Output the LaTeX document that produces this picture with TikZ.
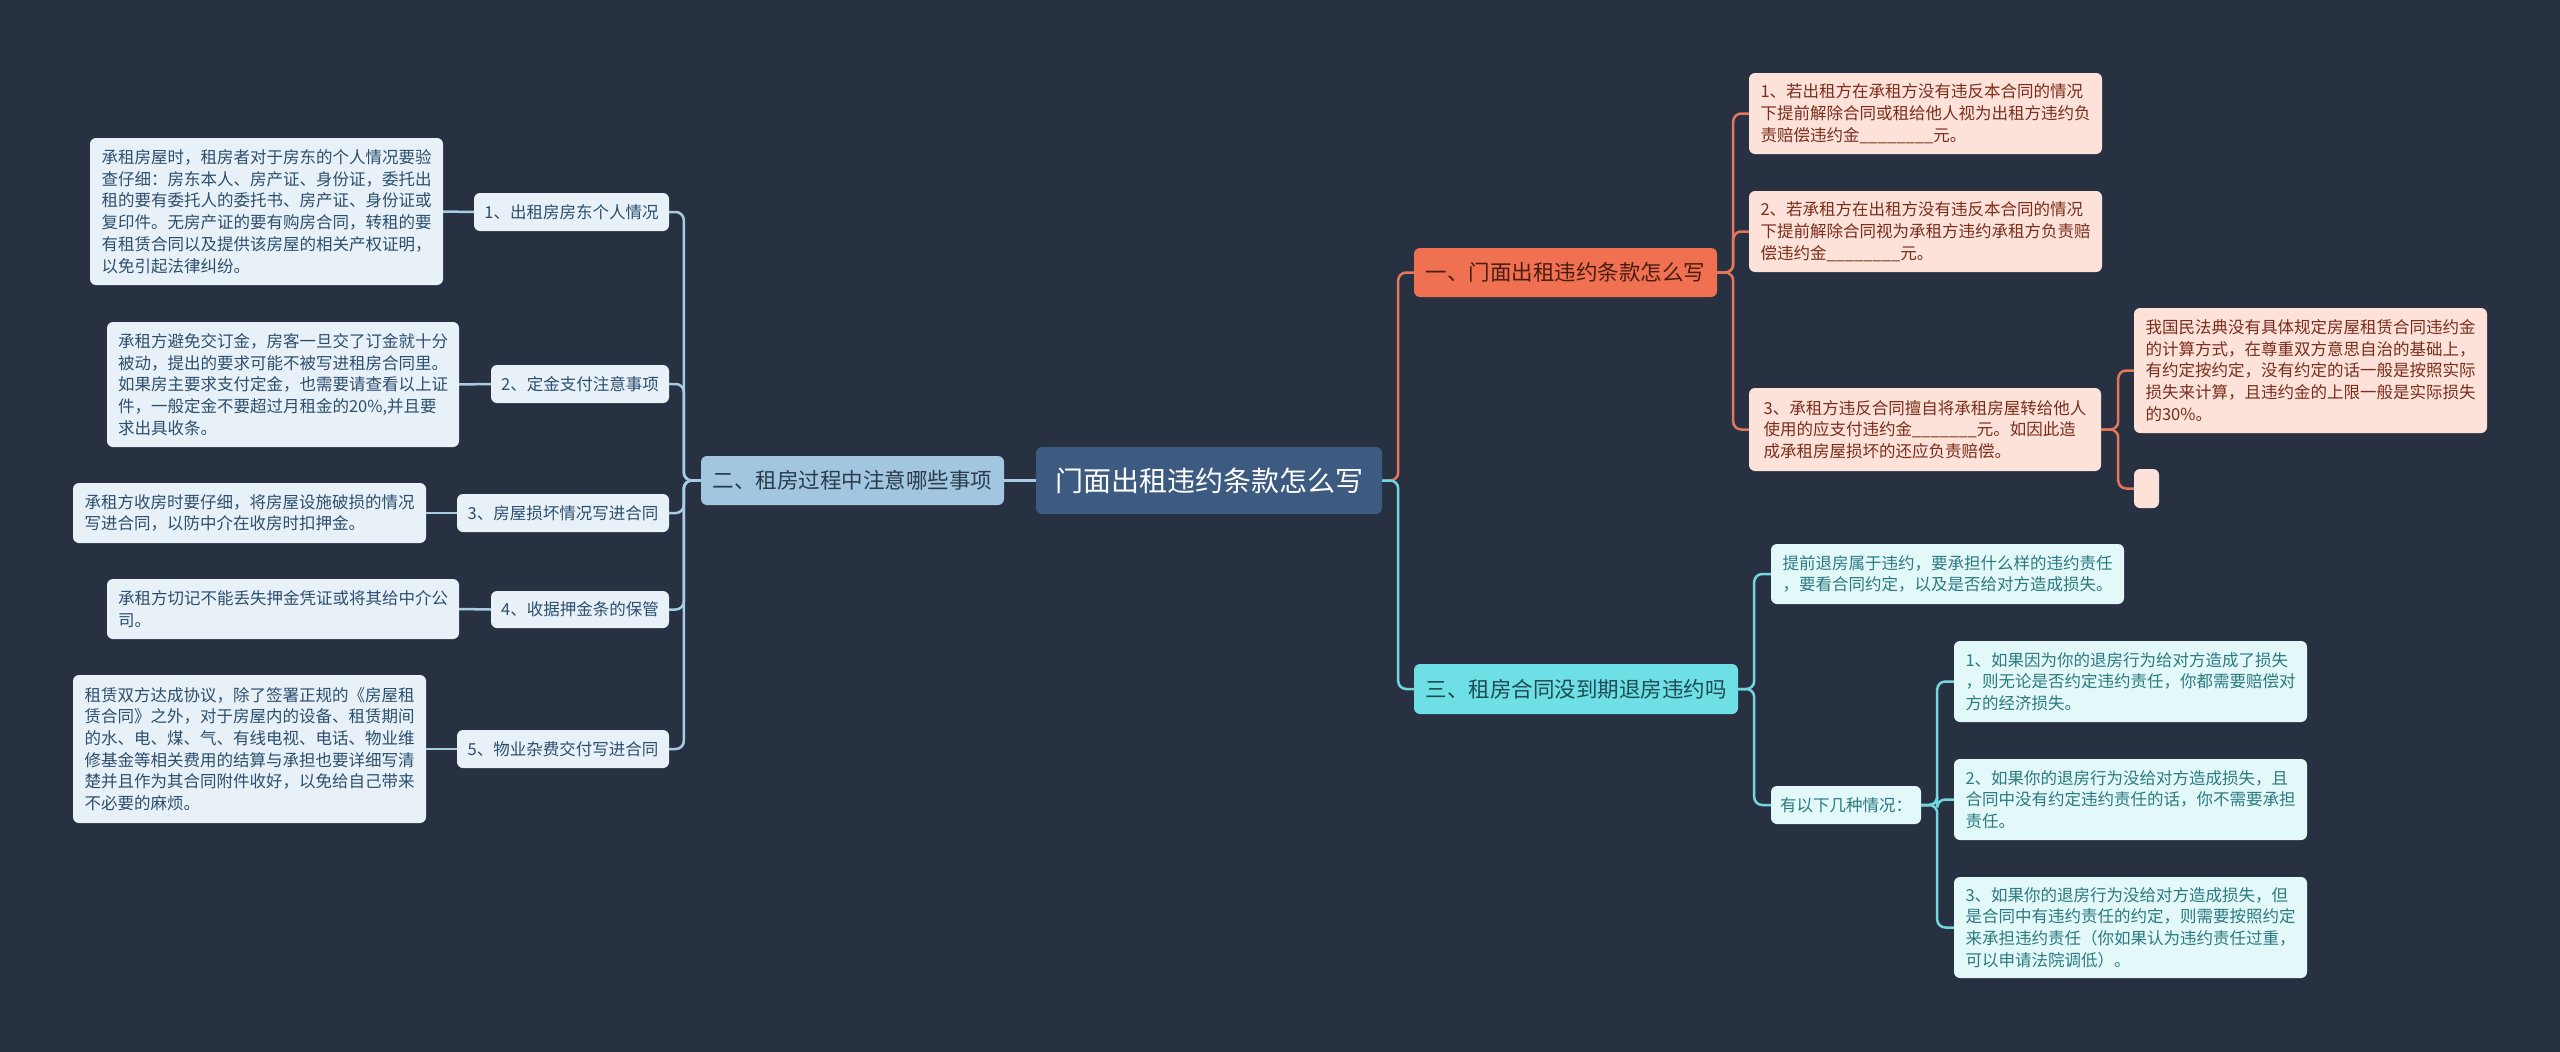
\documentclass[tikz,border=0pt]{standalone}
\usepackage{fontspec}
\setmainfont{Noto Sans CJK SC}
\definecolor{bg}{HTML}{283142}
\definecolor{cfill}{HTML}{3D5B80}
\definecolor{lmfill}{HTML}{A2C6DF}
\definecolor{lmtext}{HTML}{2A3B4E}
\definecolor{lfill}{HTML}{E8F1F8}
\definecolor{ltext}{HTML}{2C4F6E}
\definecolor{lline}{HTML}{A8CCE4}
\definecolor{r1fill}{HTML}{F07052}
\definecolor{r1text}{HTML}{4A1C10}
\definecolor{rdfill}{HTML}{FDE2DA}
\definecolor{rdtext}{HTML}{7B2D1B}
\definecolor{rline}{HTML}{E4775A}
\definecolor{r3fill}{HTML}{6DDFE5}
\definecolor{r3text}{HTML}{1F4B55}
\definecolor{rsfill}{HTML}{E3F8F9}
\definecolor{rstext}{HTML}{2B7A80}
\definecolor{cline}{HTML}{74D6DE}
\tikzset{
  box/.style={rectangle, rounded corners=6pt, inner xsep=9pt, inner ysep=6pt, align=left},
  small/.style={font=\fontsize{16.5}{21.7}\selectfont},
  big/.style={font=\fontsize{21.5}{26}\selectfont},
  ctr/.style={box, fill=cfill, text=white, font=\fontsize{28}{34}\selectfont},
  lmain/.style={box, big, fill=lmfill, text=lmtext},
  lbox/.style={box, small, fill=lfill, text=ltext},
  rmain/.style={box, big, fill=r1fill, text=r1text},
  rbox/.style={box, small, fill=rdfill, text=rdtext},
  cmain/.style={box, big, fill=r3fill, text=r3text},
  cbox/.style={box, small, fill=rsfill, text=rstext},
  conn/.style={line width=2.5pt, rounded corners=8pt},
  lc/.style={conn, draw=lline},
  rc/.style={conn, draw=rline},
  cc/.style={conn, draw=cline},
}
\begin{document}
\begin{tikzpicture}[x=1pt,y=-1pt]
\fill[bg] (0,0) rectangle (2560,1052);
\useasboundingbox (0,0) rectangle (2560,1052);

% center
\node[ctr, minimum width=346pt, minimum height=67pt] (C) at (1209,480.5) {门面出租违约条款怎么写};

% left branch
\node[lmain, minimum width=303pt, minimum height=49pt] (L) at (852.5,480.5) {二、租房过程中注意哪些事项};
\node[lbox, minimum width=195pt, minimum height=38pt] (s1) at (571.5,212) {1、出租房房东个人情况};
\node[lbox, minimum width=178pt, minimum height=38pt] (s2) at (580,384) {2、定金支付注意事项};
\node[lbox, minimum width=212pt, minimum height=38pt] (s3) at (563,513) {3、房屋损坏情况写进合同};
\node[lbox, minimum width=178pt, minimum height=37pt] (s4) at (580,609.5) {4、收据押金条的保管};
\node[lbox, minimum width=212pt, minimum height=38pt] (s5) at (563,749) {5、物业杂费交付写进合同};

\node[lbox, minimum width=353pt, minimum height=147pt] (d1) at (266.5,211.5) {承租房屋时，租房者对于房东的个人情况要验\\查仔细：房东本人、房产证、身份证，委托出\\租的要有委托人的委托书、房产证、身份证或\\复印件。无房产证的要有购房合同，转租的要\\有租赁合同以及提供该房屋的相关产权证明，\\以免引起法律纠纷。};
\node[lbox, minimum width=352pt, minimum height=125pt] (d2) at (283,384.5) {承租方避免交订金，房客一旦交了订金就十分\\被动，提出的要求可能不被写进租房合同里。\\如果房主要求支付定金，也需要请查看以上证\\件，一般定金不要超过月租金的20\%,并且要\\求出具收条。};
\node[lbox, minimum width=353pt, minimum height=60pt] (d3) at (249.5,513) {承租方收房时要仔细，将房屋设施破损的情况\\写进合同，以防中介在收房时扣押金。};
\node[lbox, minimum width=352pt, minimum height=60pt] (d4) at (283,609) {承租方切记不能丢失押金凭证或将其给中介公\\司。};
\node[lbox, minimum width=353pt, minimum height=148pt] (d5) at (249.5,749) {租赁双方达成协议，除了签署正规的《房屋租\\赁合同》之外，对于房屋内的设备、租赁期间\\的水、电、煤、气、有线电视、电话、物业维\\修基金等相关费用的结算与承担也要详细写清\\楚并且作为其合同附件收好，以免给自己带来\\不必要的麻烦。};

% right branch 1
\node[rmain, minimum width=303pt, minimum height=49pt] (R1) at (1565.5,272.5) {一、门面出租违约条款怎么写};
\node[rbox, minimum width=353pt, minimum height=81pt] (rd1) at (1925.5,113.5) {1、若出租方在承租方没有违反本合同的情况\\下提前解除合同或租给他人视为出租方违约负\\责赔偿违约金\_\_\_\_\_\_\_\_元。};
\node[rbox, minimum width=353pt, minimum height=81pt] (rd2) at (1925.5,231.5) {2、若承租方在出租方没有违反本合同的情况\\下提前解除合同视为承租方违约承租方负责赔\\偿违约金\_\_\_\_\_\_\_\_元。};
\node[rbox, minimum width=352pt, minimum height=83pt] (rd3) at (1925,429.5) {3、承租方违反合同擅自将承租房屋转给他人\\使用的应支付违约金\_\_\_\_\_\_\_元。如因此造\\成承租房屋损坏的还应负责赔偿。};
\node[rbox, minimum width=353pt, minimum height=125pt] (rdd1) at (2310.5,370.5) {我国民法典没有具体规定房屋租赁合同违约金\\的计算方式，在尊重双方意思自治的基础上，\\有约定按约定，没有约定的话一般是按照实际\\损失来计算，且违约金的上限一般是实际损失\\的30\%。};
\node[rbox, minimum width=25pt, minimum height=39pt, inner sep=0pt] (rdd2) at (2146.5,488.5) {};

% right branch 3
\node[cmain, minimum width=324pt, minimum height=50pt] (R3) at (1576,689) {三、租房合同没到期退房违约吗};
\node[cbox, minimum width=353pt, minimum height=60pt] (rt1) at (1947.5,574) {提前退房属于违约，要承担什么样的违约责任\\，要看合同约定，以及是否给对方造成损失。};
\node[cbox, minimum width=150pt, minimum height=38pt] (rt2) at (1846,805) {有以下几种情况：};
\node[cbox, minimum width=353pt, minimum height=81pt] (rs1) at (2130.5,681.5) {1、如果因为你的退房行为给对方造成了损失\\，则无论是否约定违约责任，你都需要赔偿对\\方的经济损失。};
\node[cbox, minimum width=353pt, minimum height=81pt] (rs2) at (2130.5,799.5) {2、如果你的退房行为没给对方造成损失，且\\合同中没有约定违约责任的话，你不需要承担\\责任。};
\node[cbox, minimum width=353pt, minimum height=101pt] (rs3) at (2130.5,927.5) {3、如果你的退房行为没给对方造成损失，但\\是合同中有违约责任的约定，则需要按照约定\\来承担违约责任（你如果认为违约责任过重，\\可以申请法院调低）。};

% connectors
\begin{scope}[on background layer/.style={}]
\draw[lc] (C.west) -- (L.east);
\foreach \s in {s1,s2,s3,s4,s5} \draw[lc] (L.west) -- ++(-17,0) |- (\s.east);
\draw[lc] (d1.east) -- (s1.west);
\draw[lc] (d2.east) -- (s2.west);
\draw[lc] (d3.east) -- (s3.west);
\draw[lc] (d4.east) -- (s4.west);
\draw[lc] (d5.east) -- (s5.west);

\draw[rc] (C.east) -- ++(16,0) |- (R1.west);
\draw[cc] (C.east) -- ++(16,0) |- (R3.west);
\foreach \s in {rd1,rd2,rd3} \draw[rc] (R1.east) -- ++(16,0) |- (\s.west);
\foreach \s in {rdd1,rdd2} \draw[rc] (rd3.east) -- ++(17,0) |- (\s.west);
\foreach \s in {rt1,rt2} \draw[cc] (R3.east) -- ++(16,0) |- (\s.west);
\foreach \s in {rs1,rs2,rs3} \draw[cc] (rt2.east) -- ++(16,0) |- (\s.west);
\end{scope}
\end{tikzpicture}
\end{document}
